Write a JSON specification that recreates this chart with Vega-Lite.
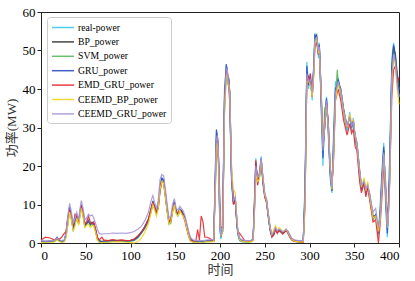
{
"$schema":"https://vega.github.io/schema/vega-lite/v6.json",
"width":358,"height":231,
"autosize":{"type":"none"},
"padding":{"left":41,"top":12,"right":16,"bottom":38},
"background":"white",
"config":{"view":{"stroke":"#222","strokeWidth":1},"font":"Liberation Serif, Times New Roman, serif",
"axis":{"grid":false,"domainColor":"#222","tickColor":"#222","labelColor":"#000","labelFont":"Liberation Serif, Times New Roman, serif","labelFontSize":13,"tickSize":4,"labelPadding":2,"titleFont":"Liberation Serif, Times New Roman, Noto Sans CJK SC, serif","titleFontSize":13,"titleFontWeight":"normal","titleColor":"#333"}},
"data":{"values":[
{"t":0,"r":0.3,"b":0.5,"s":0.2,"g":0.4,"e":0.8,"c":0.1,"p":0.6},
{"t":5,"r":0.3,"b":0.4,"s":0.3,"g":0.3,"e":1.5,"c":0.2,"p":0.5},
{"t":10,"r":0.4,"b":0.5,"s":0.3,"g":0.4,"e":1.3,"c":0.2,"p":0.6},
{"t":15,"r":0.5,"b":0.6,"s":0.4,"g":0.5,"e":0.8,"c":0.3,"p":0.7},
{"t":18,"r":1.5,"b":1.2,"s":1.0,"g":1.4,"e":1.2,"c":0.8,"p":1.3},
{"t":20,"r":0.6,"b":0.8,"s":0.5,"g":0.7,"e":0.9,"c":0.4,"p":0.9},
{"t":23,"r":0.3,"b":0.5,"s":0.3,"g":0.4,"e":1.5,"c":0.2,"p":0.6},
{"t":26,"r":0.5,"b":0.6,"s":0.4,"g":0.5,"e":2.5,"c":0.3,"p":0.8},
{"t":28,"r":3,"b":2,"s":1.5,"g":2.5,"e":3,"c":1.5,"p":2.5},
{"t":30,"r":7,"b":5.5,"s":5,"g":6,"e":6.5,"c":4.5,"p":7},
{"t":32,"r":9.5,"b":9,"s":8.5,"g":9.3,"e":8.5,"c":8,"p":10.3},
{"t":34,"r":6,"b":7,"s":6.5,"g":6.5,"e":7,"c":6,"p":8},
{"t":36,"r":3,"b":4,"s":3.5,"g":3.5,"e":4.5,"c":3,"p":5},
{"t":38,"r":6,"b":5,"s":5,"g":5.5,"e":7.5,"c":4.5,"p":6.5},
{"t":40,"r":7.5,"b":7,"s":6.5,"g":7,"e":7,"c":6.5,"p":8},
{"t":42,"r":5,"b":5.5,"s":5,"g":5.5,"e":5,"c":4.5,"p":6},
{"t":44,"r":9,"b":8,"s":7.5,"g":8.5,"e":8.5,"c":7.5,"p":9.5},
{"t":45,"r":10,"b":9.5,"s":9,"g":9.8,"e":9.5,"c":9,"p":11},
{"t":47,"r":7,"b":8,"s":7.5,"g":7.5,"e":8,"c":7,"p":9},
{"t":49,"r":4,"b":5,"s":4.5,"g":4.5,"e":5,"c":4,"p":6},
{"t":51,"r":5.5,"b":5,"s":5,"g":5,"e":5.5,"c":4.5,"p":6.5},
{"t":53,"r":6,"b":5.5,"s":5.5,"g":5.8,"e":7,"c":5,"p":7.5},
{"t":55,"r":4.5,"b":5,"s":4.5,"g":4.8,"e":5.5,"c":4,"p":7},
{"t":57,"r":5.5,"b":5,"s":5,"g":5.3,"e":5,"c":4.5,"p":7.3},
{"t":59,"r":5,"b":5,"s":4.5,"g":5,"e":5.5,"c":4.5,"p":6.5},
{"t":61,"r":3,"b":3.5,"s":3,"g":3.2,"e":3.5,"c":2.8,"p":5},
{"t":63,"r":1,"b":1.5,"s":1,"g":1.2,"e":1.5,"c":0.8,"p":3.5},
{"t":65,"r":0.3,"b":0.6,"s":0.3,"g":0.5,"e":0.8,"c":0.2,"p":2.5},
{"t":68,"r":0.2,"b":0.4,"s":0.2,"g":0.3,"e":1.5,"c":0.1,"p":2.3},
{"t":70,"r":0.2,"b":0.5,"s":0.3,"g":0.4,"e":0.8,"c":0.2,"p":2.4},
{"t":75,"r":0.3,"b":0.6,"s":0.3,"g":0.5,"e":0.6,"c":0.2,"p":2.4},
{"t":80,"r":0.5,"b":0.7,"s":0.4,"g":0.6,"e":0.9,"c":0.3,"p":2.6},
{"t":85,"r":0.4,"b":0.6,"s":0.4,"g":0.5,"e":0.7,"c":0.3,"p":2.5},
{"t":90,"r":0.5,"b":0.7,"s":0.5,"g":0.6,"e":0.8,"c":0.3,"p":2.6},
{"t":95,"r":0.4,"b":0.6,"s":0.4,"g":0.5,"e":0.6,"c":0.2,"p":2.5},
{"t":100,"r":0.5,"b":0.7,"s":0.5,"g":0.6,"e":0.7,"c":0.1,"p":2.7},
{"t":104,"r":0.7,"b":0.9,"s":0.6,"g":0.8,"e":1,"c":0,"p":3},
{"t":108,"r":1.5,"b":1.6,"s":1.3,"g":1.5,"e":1.8,"c":0.3,"p":3.6},
{"t":112,"r":2.5,"b":2.8,"s":2.4,"g":2.6,"e":2.8,"c":1.2,"p":4.3},
{"t":116,"r":4,"b":4.2,"s":3.8,"g":4,"e":4.3,"c":2.8,"p":5.8},
{"t":120,"r":6,"b":6,"s":5.5,"g":6,"e":6.3,"c":5,"p":8},
{"t":123,"r":9,"b":8.5,"s":8,"g":8.7,"e":9,"c":8,"p":11},
{"t":125,"r":11,"b":10.5,"s":10,"g":10.8,"e":10.5,"c":10,"p":12.3},
{"t":127,"r":9,"b":9.5,"s":9,"g":9.2,"e":9.5,"c":8.5,"p":10.5},
{"t":129,"r":7.5,"b":8,"s":7.5,"g":7.7,"e":8,"c":7,"p":9},
{"t":131,"r":10,"b":9.5,"s":9,"g":9.8,"e":9,"c":9,"p":11},
{"t":133,"r":15,"b":14,"s":13.5,"g":14.5,"e":13.5,"c":14,"p":16.5},
{"t":135,"r":17,"b":16.5,"s":16,"g":16.8,"e":16,"c":16,"p":17.8},
{"t":137,"r":16,"b":16.5,"s":16,"g":16.5,"e":15.5,"c":15.5,"p":17.5},
{"t":139,"r":12,"b":13,"s":12.5,"g":12.5,"e":12,"c":12,"p":14},
{"t":141,"r":8,"b":9,"s":8.5,"g":8.5,"e":8.5,"c":8,"p":10},
{"t":143,"r":5,"b":5.5,"s":5,"g":5.3,"e":5.5,"c":4.8,"p":6.5},
{"t":145,"r":6,"b":5.5,"s":5,"g":5.8,"e":6,"c":5.5,"p":7},
{"t":147,"r":9,"b":8.5,"s":8,"g":8.7,"e":8.5,"c":8,"p":10},
{"t":149,"r":11,"b":10.5,"s":10,"g":10.8,"e":10,"c":10,"p":11.5},
{"t":151,"r":8,"b":8.5,"s":8,"g":8.3,"e":8,"c":7.5,"p":9},
{"t":153,"r":7.5,"b":7.5,"s":7,"g":7.5,"e":7.8,"c":7,"p":8.5},
{"t":155,"r":9,"b":8.5,"s":8,"g":8.8,"e":8.5,"c":8.5,"p":9.5},
{"t":157,"r":8,"b":8.5,"s":8,"g":8.2,"e":8,"c":7.5,"p":9},
{"t":159,"r":7.5,"b":7.5,"s":7,"g":7.5,"e":7,"c":7,"p":8.3},
{"t":161,"r":6,"b":6.3,"s":6,"g":6.2,"e":5.5,"c":5.8,"p":7},
{"t":163,"r":4,"b":4.5,"s":4,"g":4.2,"e":3.5,"c":3.8,"p":5},
{"t":165,"r":2,"b":2.5,"s":2,"g":2.3,"e":1.8,"c":1.8,"p":3},
{"t":167,"r":0.6,"b":1,"s":0.6,"g":0.8,"e":0.6,"c":0.5,"p":1.5},
{"t":170,"r":0.3,"b":0.5,"s":0.2,"g":0.4,"e":0.4,"c":0.2,"p":0.8},
{"t":173,"r":0.3,"b":0.5,"s":0.3,"g":0.4,"e":0.5,"c":0.2,"p":0.7},
{"t":175,"r":0.3,"b":0.4,"s":0.3,"g":0.3,"e":3.5,"c":0.2,"p":0.7},
{"t":177,"r":0.3,"b":0.5,"s":0.3,"g":0.4,"e":0.8,"c":0.2,"p":0.6},
{"t":179,"r":0.3,"b":0.5,"s":0.3,"g":0.4,"e":7,"c":0.2,"p":0.6},
{"t":181,"r":0.3,"b":0.4,"s":0.2,"g":0.3,"e":5.5,"c":0.2,"p":0.6},
{"t":183,"r":0.4,"b":0.5,"s":0.3,"g":0.4,"e":1.5,"c":0.3,"p":0.7},
{"t":186,"r":0.4,"b":0.6,"s":0.4,"g":0.5,"e":1.5,"c":0.3,"p":0.8},
{"t":190,"r":0.5,"b":0.6,"s":0.4,"g":0.5,"e":1,"c":0.3,"p":0.8},
{"t":193,"r":0.5,"b":0.7,"s":0.5,"g":0.6,"e":0.5,"c":0.4,"p":0.9},
{"t":195,"r":22,"b":17,"s":16,"g":20,"e":18,"c":15,"p":19},
{"t":196,"r":29,"b":27,"s":26,"g":29.5,"e":25,"c":25,"p":27},
{"t":197,"r":26,"b":28,"s":27,"g":28,"e":27,"c":26,"p":28},
{"t":198,"r":24,"b":25,"s":24,"g":25,"e":23,"c":23,"p":25},
{"t":199,"r":12,"b":16,"s":15,"g":14,"e":18,"c":14,"p":15},
{"t":200,"r":3,"b":6,"s":5,"g":4,"e":10,"c":5,"p":5},
{"t":201,"r":1,"b":2,"s":1.5,"g":1.5,"e":4,"c":2,"p":2},
{"t":203,"r":5,"b":3,"s":3,"g":4,"e":4,"c":3,"p":3.5},
{"t":205,"r":40,"b":35,"s":34,"g":38,"e":37,"c":33,"p":36},
{"t":207,"r":46,"b":45,"s":44,"g":46.5,"e":44,"c":43,"p":45},
{"t":208,"r":44,"b":45.5,"s":45,"g":45,"e":45,"c":44,"p":45.5},
{"t":209,"r":41,"b":42,"s":41.5,"g":41.5,"e":42,"c":41,"p":42},
{"t":210,"r":43,"b":42,"s":42,"g":42.5,"e":40,"c":41,"p":42},
{"t":211,"r":36,"b":39,"s":38,"g":37.5,"e":36,"c":38,"p":38},
{"t":212,"r":24,"b":28,"s":27,"g":26,"e":26,"c":28,"p":27},
{"t":213,"r":15,"b":18,"s":17,"g":16,"e":17,"c":19,"p":17},
{"t":215,"r":10,"b":11,"s":10.5,"g":10.5,"e":10,"c":14,"p":11},
{"t":217,"r":12,"b":11.5,"s":11,"g":11.8,"e":11,"c":13,"p":12},
{"t":219,"r":4,"b":5.5,"s":5,"g":4.8,"e":4.5,"c":6,"p":5.5},
{"t":220,"r":2,"b":3,"s":2.5,"g":2.5,"e":3,"c":3,"p":3},
{"t":222,"r":0.6,"b":1,"s":0.7,"g":0.8,"e":2.5,"c":0.8,"p":1.2},
{"t":225,"r":0.3,"b":0.6,"s":0.4,"g":0.5,"e":1.5,"c":0.4,"p":0.8},
{"t":228,"r":0.3,"b":0.5,"s":0.3,"g":0.4,"e":0.5,"c":0.3,"p":0.7},
{"t":232,"r":0.3,"b":0.5,"s":0.3,"g":0.4,"e":0.5,"c":0.3,"p":0.6},
{"t":235,"r":0.4,"b":0.6,"s":0.4,"g":0.5,"e":0.6,"c":0.3,"p":0.7},
{"t":237,"r":1,"b":0.8,"s":0.7,"g":0.9,"e":1.2,"c":0.6,"p":1},
{"t":239,"r":15,"b":12,"s":11,"g":13,"e":14,"c":10,"p":12},
{"t":240,"r":22,"b":20,"s":19,"g":21,"e":21.5,"c":18,"p":20},
{"t":242,"r":15,"b":17,"s":16.5,"g":16,"e":15,"c":16,"p":17},
{"t":244,"r":18,"b":17,"s":17,"g":17.5,"e":18,"c":16.5,"p":17.5},
{"t":246,"r":22.5,"b":21.5,"s":21,"g":22,"e":21,"c":21.5,"p":22},
{"t":248,"r":15,"b":17,"s":16.5,"g":16,"e":16,"c":17,"p":17},
{"t":250,"r":12,"b":12.5,"s":12,"g":12.3,"e":12,"c":12.5,"p":13},
{"t":252,"r":11,"b":11,"s":10.5,"g":11,"e":10.5,"c":11,"p":11.5},
{"t":254,"r":6.5,"b":7.5,"s":7,"g":7,"e":7,"c":7.5,"p":7.5},
{"t":256,"r":3,"b":4,"s":3.5,"g":3.5,"e":3.5,"c":4,"p":4},
{"t":258,"r":1.5,"b":2,"s":1.8,"g":1.8,"e":1.6,"c":2.2,"p":2.2},
{"t":260,"r":2.5,"b":2.3,"s":2.2,"g":2.4,"e":2,"c":3.5,"p":2.8},
{"t":262,"r":4,"b":3.8,"s":3.6,"g":3.9,"e":3.5,"c":4.5,"p":4},
{"t":264,"r":2.5,"b":3,"s":2.8,"g":2.8,"e":2.5,"c":3.2,"p":3.2},
{"t":266,"r":3.5,"b":3.3,"s":3.2,"g":3.4,"e":3.2,"c":4,"p":3.6},
{"t":268,"r":3,"b":3.2,"s":3,"g":3.1,"e":2.8,"c":3.6,"p":3.3},
{"t":270,"r":2.5,"b":2.8,"s":2.6,"g":2.6,"e":2.3,"c":3,"p":2.9},
{"t":272,"r":3,"b":2.9,"s":2.8,"g":3,"e":2.8,"c":3.2,"p":3.2},
{"t":274,"r":3.5,"b":3.3,"s":3.2,"g":3.4,"e":3.3,"c":3.6,"p":3.6},
{"t":276,"r":2.5,"b":3,"s":2.8,"g":2.8,"e":2.5,"c":2.8,"p":3},
{"t":278,"r":1.5,"b":2,"s":1.8,"g":1.8,"e":1.5,"c":1.8,"p":2.1},
{"t":280,"r":0.8,"b":1.2,"s":1,"g":1,"e":0.8,"c":1,"p":1.3},
{"t":283,"r":0.4,"b":0.7,"s":0.5,"g":0.5,"e":0.4,"c":0.5,"p":0.8},
{"t":288,"r":0.3,"b":0.5,"s":0.3,"g":0.4,"e":0.3,"c":0.3,"p":0.6},
{"t":293,"r":0.3,"b":0.5,"s":0.3,"g":0.4,"e":0.2,"c":0.3,"p":0.6},
{"t":295,"r":16,"b":12,"s":11,"g":14,"e":10,"c":9,"p":12},
{"t":297,"r":47,"b":44,"s":43,"g":46,"e":43,"c":42,"p":44},
{"t":299,"r":40,"b":43,"s":42,"g":41,"e":42,"c":42,"p":42},
{"t":301,"r":44,"b":42,"s":41,"g":43,"e":44,"c":41,"p":42.5},
{"t":303,"r":37,"b":39,"s":38.5,"g":38,"e":38,"c":38,"p":39},
{"t":305,"r":48,"b":46,"s":45,"g":47,"e":45,"c":44,"p":46},
{"t":306,"r":54.5,"b":53,"s":52,"g":54,"e":51,"c":52,"p":53},
{"t":308,"r":53,"b":54,"s":53,"g":53.5,"e":52,"c":53,"p":53.5},
{"t":310,"r":48,"b":50,"s":49.5,"g":49,"e":49,"c":49.5,"p":50},
{"t":311,"r":52,"b":51,"s":50.5,"g":51.5,"e":50,"c":50,"p":51},
{"t":313,"r":35,"b":40,"s":39,"g":37,"e":38,"c":39,"p":39},
{"t":315,"r":20,"b":25,"s":24,"g":22,"e":26,"c":25,"p":24},
{"t":317,"r":33,"b":30,"s":35,"g":32,"e":30,"c":31,"p":31},
{"t":319,"r":38,"b":37,"s":36,"g":37.5,"e":36,"c":36,"p":37},
{"t":321,"r":28,"b":31,"s":30,"g":29.5,"e":31,"c":30,"p":30},
{"t":323,"r":17,"b":20,"s":19,"g":18.5,"e":20,"c":20,"p":20},
{"t":325,"r":13,"b":14,"s":13.5,"g":13.5,"e":15,"c":14,"p":14.5},
{"t":327,"r":30,"b":24,"s":25,"g":27,"e":22,"c":23,"p":25},
{"t":329,"r":42,"b":39,"s":38,"g":40,"e":37,"c":37,"p":39},
{"t":331,"r":40,"b":41,"s":45,"g":41,"e":39,"c":40,"p":41},
{"t":332,"r":43,"b":42,"s":42,"g":42.5,"e":40,"c":41,"p":42},
{"t":335,"r":38.5,"b":40,"s":39.5,"g":39,"e":37,"c":39,"p":39.5},
{"t":338,"r":33.5,"b":35,"s":34.5,"g":34.5,"e":32,"c":34,"p":34.5},
{"t":340,"r":31.5,"b":32.5,"s":32,"g":32,"e":30,"c":32,"p":32.5},
{"t":342,"r":29,"b":30.5,"s":30,"g":30,"e":28,"c":30,"p":30.5},
{"t":345,"r":34,"b":32.5,"s":33,"g":33,"e":31,"c":33.5,"p":32.5},
{"t":347,"r":29,"b":31,"s":30.5,"g":30,"e":28.5,"c":31.5,"p":30.5},
{"t":349,"r":32.5,"b":31.5,"s":31.5,"g":32,"e":29.5,"c":32,"p":31.5},
{"t":351,"r":26,"b":28,"s":27.5,"g":27,"e":25,"c":28,"p":27.5},
{"t":353,"r":25,"b":26,"s":25.5,"g":25.5,"e":24,"c":25.5,"p":26},
{"t":356,"r":17,"b":19,"s":18.5,"g":18,"e":16,"c":18.5,"p":18.5},
{"t":358,"r":13.5,"b":15,"s":14.5,"g":14,"e":13,"c":14.5,"p":15},
{"t":361,"r":16.5,"b":15.5,"s":15.5,"g":16,"e":15.5,"c":17,"p":16},
{"t":363,"r":12.5,"b":14,"s":13.5,"g":13,"e":12,"c":13.5,"p":14},
{"t":365,"r":15.5,"b":14.5,"s":14.5,"g":15,"e":14.5,"c":16,"p":15},
{"t":367,"r":12,"b":13,"s":12.5,"g":12.5,"e":11.5,"c":12.5,"p":13},
{"t":369,"r":9,"b":10,"s":9.5,"g":9.5,"e":8.5,"c":9.5,"p":10.5},
{"t":371,"r":6,"b":7,"s":6.5,"g":6.5,"e":5.5,"c":6.5,"p":8},
{"t":374,"r":7.5,"b":7,"s":7,"g":7.3,"e":6,"c":7,"p":9},
{"t":377,"r":2,"b":3.5,"s":3,"g":2.5,"e":0,"c":3,"p":4},
{"t":379,"r":10,"b":7,"s":6.5,"g":8.5,"e":5,"c":6,"p":7},
{"t":381,"r":19,"b":16,"s":15.5,"g":17.5,"e":12,"c":15,"p":15.5},
{"t":383,"r":26,"b":24,"s":23.5,"g":25,"e":20,"c":23,"p":23.5},
{"t":385,"r":10,"b":14,"s":13.5,"g":12,"e":16,"c":14,"p":14},
{"t":387,"r":1.5,"b":4,"s":3.5,"g":2.5,"e":5,"c":4,"p":4},
{"t":389,"r":18,"b":12,"s":11,"g":15,"e":12,"c":10,"p":11},
{"t":390,"r":27,"b":22,"s":21,"g":25,"e":20,"c":20,"p":21},
{"t":392,"r":48,"b":44,"s":43,"g":46,"e":38,"c":42,"p":43},
{"t":394,"r":52,"b":51,"s":50,"g":51.5,"e":45,"c":49,"p":49},
{"t":396,"r":47,"b":49,"s":48,"g":48,"e":46,"c":46,"p":47},
{"t":398,"r":42,"b":44,"s":43,"g":43,"e":42,"c":40,"p":41},
{"t":400,"r":38,"b":41,"s":40,"g":39.5,"e":43,"c":36,"p":38}
]},
"transform":[{"fold":["r","b","s","g","e","c","p"],"as":["k","v"]}],
"mark":{"type":"line","strokeWidth":1.2,"opacity":0.9},
"encoding":{
"x":{"field":"t","type":"quantitative","scale":{"domain":[0,400],"nice":false},"axis":{"values":[0,50,100,150,200,250,300,350,400],"title":"时间","titlePadding":1}},
"y":{"field":"v","type":"quantitative","scale":{"domain":[0,60],"nice":false},"axis":{"values":[0,10,20,30,40,50,60],"title":"功率(MW)","titlePadding":4}},
"color":{"field":"k","type":"nominal","scale":{"domain":["r","b","s","g","e","c","p"],"range":["#3cc8ee","#333333","#5cb85c","#2d4fc4","#e8282e","#f5d322","#a996d8"]},
"legend":{"orient":"none","legendX":6,"legendY":5,"title":null,"strokeColor":"#cccccc","fillColor":"white","padding":4,"cornerRadius":3,"symbolType":"M-1,0H3","symbolSize":121,"symbolStrokeWidth":1.5,"labelFont":"Liberation Serif, Times New Roman, serif","labelFontSize":9.7,"labelColor":"#000","rowPadding":2.4,"labelOffset":14,
"labelExpr":"{'r':'real-power','b':'BP_power','s':'SVM_power','g':'GRU_power','e':'EMD_GRU_power','c':'CEEMD_BP_power','p':'CEEMD_GRU_power'}[datum.label]"}}
}
}
